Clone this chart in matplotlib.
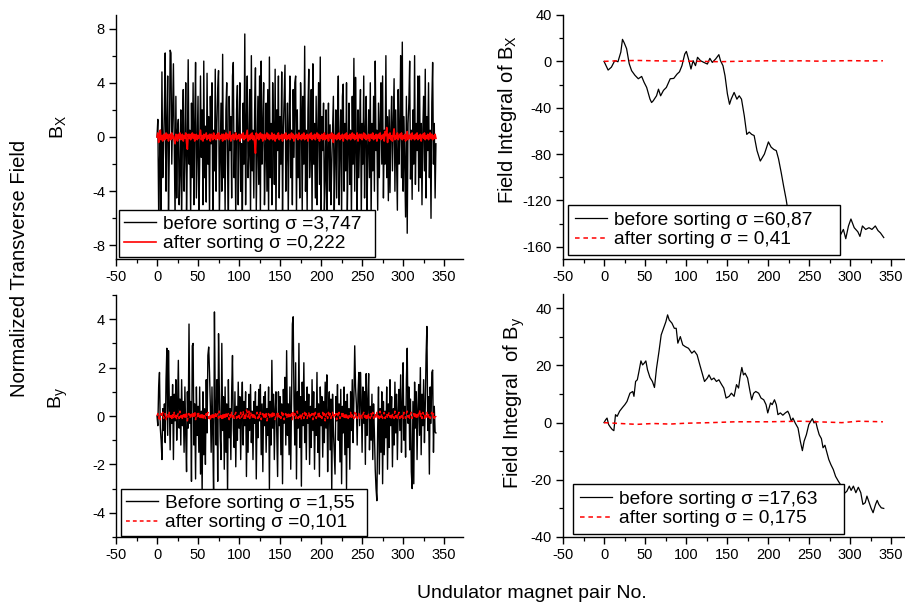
import numpy as np
import matplotlib
matplotlib.use('Agg')
import matplotlib.pyplot as plt
from matplotlib.ticker import MultipleLocator

plt.rcParams['font.family'] = ['Liberation Sans', 'DejaVu Sans']
plt.rcParams['axes.unicode_minus'] = False
plt.rcParams['mathtext.fontset'] = 'custom'
plt.rcParams['mathtext.rm'] = 'Liberation Sans'
plt.rcParams['mathtext.default'] = 'regular'

# ---------------- data ----------------
bx_before = [
    0, 1.3, -5.5, -2, 0.5, -6, 4.8, -3, -1, 2, 6.2, -4, 0.8, 4.5, -5.8, -1, 6.4, 6.2, -2, 1.5,
    5.4, -0.5, -6, 3, -4.5, 0.5, 1.3, -5, -2.5, 2, -6.5, 0.3, 3.5, -4, -1, 4, -5.5, -1, 5.7, -2,
    0.5, -6, 2.5, -3, 4, -5, 1, 5.5, -4.5, -0.5, 3, -6, -2, 4.5, -1.5, 2, -5, 5.6, -3, 0.8,
    -4.8, 4.7, -2, 1.5, -6, 3, -0.5, 4, -5.5, 0.5, -2.5, 5, -4, 1, 3.5, 4.9, -6, -1.5, 2.5, -4,
    6.1, -3, 0.5, -5.5, 2, 4, -2, -6, 3, -1, 1.5, -4.5, 4.5, 5.5, -3, 0.3, -6, 2, 3.8, -5,
    0.5, 4, -4, -0.5, -6.5, 2.5, -2, 7.6, -5, 1, 4.5, -3, -1, 3.5, -6, 6, -2.5, 0.5, -4.5, 2,
    5.1, -5.5, -1, 3, -3.5, 4.5, -6, 5.6, -2, 0.5, 4, -5, -1.5, 2.5, -4, 3.5, -6, 5.9, -3, 1,
    -5, 4, 0.5, -3.5, 5, -6.5, 2, -1, 4.5, -4.5, 1.5, -2, 4.8, -5.5, 0.5, 3, 5.3, -4, -1, 2.5,
    -6, 1, 4.5, -3, 0.5, -5, 3.5, -1.5, 4, 4.5, -6, 2, -3, 0.5, -4.5, 4, 1.5, -5.5, 3, -2,
    6.7, -4, 0.5, -5.5, 2, 5, -3, -1, 3.5, -6, 5.4, -2, 1, -4.5, 3, -5, 0.5, 4, -3.5, 5.9,
    -6, 1.5, -1, 2.5, -5.5, -3, 2, -6.5, -1, 2.5, -4, 0.9, -5, -2, 0.5, 3, -6, -1.5, 2, -4.5,
    1, 4.5, -5, -0.5, 2, -6, 3, 3.9, -4, 1, -2.5, 4, -5.5, -1, 2.5, -3.5, 0.5, -6, 3, -2,
    5.8, -4, 4.4, -1, -5.5, 2, -3, 0.5, 3.5, -6, 1, -2, 4.5, -4.5, 0.5, 3, -5.5, -1, 2, -3,
    4, -6, 1, -2.5, 3, -4, 5.6, -1, 0.5, -5.4, 2.5, -3, 1, 4, -2, 4.5, -4.5, 0.5, -2, 6,
    -3, 1.5, -4.7, 2, -4.1, 0.5, 3, -2.5, 1, 4.3, -4, 2, -1.5, -5.4, 3.5, -2, 0.5, 6, -3, 7,
    -4, 1.5, -2, -5.9, 3, -7.1, 1, 2.5, 5.6, -3.1, 0.5, -4.6, 2, -2, 6, -3.5, 1, -1, 4.5, -4,
    4.5, -3, 1, -5, 0.5, 3, -2.5, 5, -4.5, 1.5, -1, 4, -3, 0.5, -6, 2.5, 5.5, -2, 1, -4.5,
    -0.5]

bx_after = [
    0, .3, -.4, .2, .5, -.2, .1, -.3, .2, .1, -.2, .3, -.1, .2, -.3, .1, .2, -.2, .3, -.1,
    .1, -.2, -.5, .2, .1, -.3, .2, -.1, .3, -.2, .1, .2, -.3, .1, -.1, .3, -.4, -.9, .2, -.1,
    .2, -.2, .1, .3, -.1, .2, -.3, .1, .2, -.2, .1, -.1, .2, .5, -.2, .1, -.3, .2, -.1, .1,
    .3, -.2, .1, -.1, .2, -.3, .2, .1, -.2, .3, -.1, .1, -.2, .2, -.1, .3, -.2, .1, -.1, .2,
    -.3, .2, .1, -.2, .3, -.1, .2, -.2, .1, .4, -.3, .1, -.1, .2, -.2, .1, .3, -.2, .1, -.1,
    .2, -.3, .1, .2, -.1, .3, -.2, .1, -.1, .2, .5, -.3, .1, -.2, .2, -.1, .3, -.2, .1, -.4,
    -1.2, .3, -.1, .2, -.2, .1, .3, -.1, .2, -.3, .1, .2, -.2, .1, .3, -.1, .2, -.2, .1, -.1,
    .3, -.2, .1, .2, -.3, .1, -.1, .2, .3, -.2, .1, -.1, .2, -.3, .1, .2, -.1, .3, -.2, .1,
    -.1, .2, -.2, .1, .3, -.1, .2, -.3, .1, -.1, .2, .1, -.2, .3, -.1, .1, -.2, .2, -.1, .3,
    -.2, .1, -.1, .2, -.3, .1, .2, -.1, .3, -.2, .1, -.1, .2, -.2, .1, .3, -.1, .2, -.3, .1,
    -.1, .2, -.2, .1, .3, -.2, .1, -.1, .2, -.3, .1, .2, -.1, .3, -.2, -.4, .2, -.1, .1, -.2,
    .2, -.1, .3, -.2, .1, -.1, .2, -.3, .1, .2, -.1, .3, -.2, .1, -.1, .2, -.2, .1, .3, -.1,
    .2, -.2, .1, -.1, .3, -.3, .1, .2, -.1, .2, -.2, .1, .3, -.1, .2, -.2, .1, -.1, .2, -.3,
    .1, .2, -.1, .3, -.2, .1, -.1, .2, -.3, .1, .2, -.1, .3, -.2, .1, -.1, .2, -.3, .4, .1,
    .7, -.4, .2, -.1, .3, -.2, .1, -.3, .2, .6, -.2, .1, -.1, .3, -.2, .1, .2, -.1, .3, -.2,
    .1, -.1, .2, -.3, .1, .4, -.2, .1, -.1, .2, -.2, .3, -.1, .1, -.2, .2, -.1, .3, -.2, .1,
    -.1, .2, -.3, .1, .2, -.1, .3, -.2, .1, -.1, .2, -.2, .1, .3, -.1, .2, -.2, .1, -.1, .2,
    -.1]

by_before = [
    0, -.4, 1.2, 1.8, -.5, -1, -1.8, .3, -.6, .5, -1.1, 1.5, 2.8, -.8, 2.7, .5, -1.4, .8, -.3, 1.3,
    -1.8, .9, -.2, 1.5, -1, .3, 2.3, -.5, .7, -1.2, 1.5, -.4, .6, -1.5, 1.2, -.8, -2.3, 1, -.5, 3.8,
    -.3, .6, -2.7, 2.9, 3, -1.2, .5, -2.6, 1.2, -.8, .4, -1.5, 1.2, -2.4, .2, -3.2, 1, -1.6, .3, -2,
    1.5, -.7, 2.5, 2.85, 1.8, .4, -1.5, 1.2, -.8, -3.5, 4.3, .5, -1.2, 1.5, -2.7, 3.4, 1, -.8, -1.8, 3,
    -.6, .8, -2.2, 1.2, -1.5, .5, -3.2, 1.5, -.9, .3, -1.8, 1, 2.5, -.5, -1.3, 1, -2.1, .4, -1, 1.4,
    -.5, .8, -1.8, .2, 1.4, -1.2, .6, -.4, 1, -2.5, .3, -1.5, .9, -.6, 1.3, -1.1, .2, -1.8, .6, -.3,
    1, -2.6, .4, -.9, 1.1, -.2, 1.3, -1.6, .5, -2.3, .8, -.4, 1, -1.5, .3, -.8, 1.2, -3, .6, -1.2,
    2.3, -.5, .9, -1.8, .3, 1, -.7, -2.5, 1, -.4, .8, -1.6, .5, -2.8, 1.1, -.3, 1.6, -1.2, 2.7, -.8,
    .5, -1.6, 1.2, -2.2, .6, 3.8, 4.1, .5, -1.2, 2.2, -2.6, 1, -.5, 3, -1.3, .8, -2.9, 1.4, -.4, 2.2,
    -1.1, .6, -1.8, 1.2, -.3, .9, -2, .4, -1.3, 1.5, -.6, 1, -2.2, .3, -.8, 1.8, -1.5, .5, -2.5, 1.2,
    -.4, .8, -1.7, .6, -1.1, 1.4, -.5, 1.7, -2.3, .2, 1, -1.4, .7, -3.2, .9, -.6, -1.5, -2.4, .8, -.2,
    1.3, -1, .5, -1.9, 1.1, -2.8, .4, -.7, 1.2, -1.6, .6, -3, .9, -1.3, .3, -2.2, 1, -.6, 1.5, -1.1,
    .7, 2.9, 1.2, .5, -1.2, .9, 1.8, -.4, 1.8, .6, -1.5, 1.2, -.3, 1, -2, 1.75, -.8, .6, 1.75, -1.4,
    .4, -1, .9, -1.8, .5, -.7, -2.2, -3, -3.5, -.5, 1.2, -2.4, .3, -1.5, 1, -2.8, .6, -1.6, .2, -.9,
    1.2, -2.2, .5, -1.3, 1.5, -.4, .8, -2.1, .3, -1.2, 1.4, -.7, .9, -1.8, .2, 1.1, -.6, 1.7, -1.5, .5,
    2.2, -1, .4, -1.7, 1.5, 2.8, -.3, 1.2, -1.4, .7, -2.3, -3, .6, -2.8, 1.4, -.5, 1, -1.8, .3, 1.3,
    -.8, 2, -1.6, .9, -.4, 1.5, -1.1, .4, 2.5, 3.7, -.6, .8, -2.4, 1.2, -.3, 1.8, 1.9, -1.5, .4, -.66,
    -.7]

by_after = [
    0, .1, -.1, .05, -.15, .1, -.05, .15, -.1, 0, .1, -.15, .05, .1, -.1, .15, -.05, .1, -.1, .05,
    -.1, .15, -.05, .1, -.15, .05, .1, -.1, .2, -.05, .1, -.15, .05, -.1, .15, -.05, .1, -.2, .05, .1,
    -.1, .05, .15, -.1, .1, -.05, .2, -.15, .05, .1, -.1, .15, -.05, .1, -.1, .05, -.15, .1, .05, -.1,
    .1, -.05, .15, -.1, .05, -.2, .1, -.05, .1, -.15, .05, .15, -.1, .05, .1, -.1, .2, -.05, .1, -.1,
    .05, -.15, .1, -.05, .15, -.1, .05, .1, -.15, .05, -.1, .15, -.05, .1, -.1, .05, .15, -.1, .05, -.05,
    .1, -.1, .15, -.05, .05, .2, -.1, .1, -.15, .25, .15, -.05, .2, -.1, .15, .05, -.1, .1, -.05, .1,
    -.1, .05, .15, -.1, .1, -.05, .15, -.15, .05, .1, -.1, .15, -.05, .1, -.2, .05, .1, -.1, .05, .15,
    -.1, .2, -.05, .1, -.15, .05, .1, -.1, .15, -.05, .05, -.1, .15, -.05, .1, -.15, .05, .1, -.1, .05,
    .15, -.1, .05, -.05, .1, -.15, .15, -.05, .1, -.1, .05, .2, -.1, .05, -.05, .1, -.15, .05, .1, -.1,
    .15, -.05, .1, -.1, .05, .15, -.1, .05, -.05, .1, -.15, .1, -.05, .15, -.1, .05, .1, -.1, .15, -.05,
    .05, -.1, .15, -.05, .1, -.2, .05, .1, -.1, .15, -.05, .1, -.1, .05, .15, -.1, .05, -.05, .1, -.15,
    .1, -.05, .15, -.1, .05, .1, -.1, .15, -.05, .1, -.15, .05, .1, -.1, .05, -.05, .15, -.1, .05, .1,
    -.1, .15, -.05, .1, -.1, .05, .1, -.15, .05, .1, -.1, .05, .15, -.05, .1, -.1, .05, -.15, .1, .05,
    -.1, .1, -.05, .15, -.1, .05, .1, -.1, .15, -.05, .05, -.1, .2, -.05, .1, -.1, .05, .15, -.1, .05,
    .1, -.1, .05, .15, -.05, .1, -.15, .05, .1, -.1, .2, -.05, .1, -.1, .05, .15, -.1, .05, -.05, .1,
    -.1, .15, .05, -.1, .1, .2, -.05, .1, -.1, .05, .15, -.1, .05, .1, -.1, .15, -.05, .1, -.1, .05,
    .25, -.05, .1, -.1, .15, .05, -.1, .1, -.05, .15, -.1, .05, .1, -.1, .05, .15, -.05, .1, -.1, .05,
    -.05]

# field integral of Bx, before sorting (pair No., value)
ibx_before_x = [0, 5, 9, 13, 17, 20.5, 22.5, 24.6, 27.5, 30.7, 33.6, 37.7, 41.8, 45.9, 48.8, 52, 56, 58,
                60, 64, 66.4, 69, 72.5, 76, 80.7, 85, 89, 92, 95, 98.4, 100.4, 103, 106, 108.6, 111.5,
                114, 117.6, 121.7, 126, 129, 132, 136, 140, 142, 145, 147.5, 150.4, 153, 155, 158.6,
                162, 164.8, 167.6, 171, 174, 177, 180, 183, 186.5, 190.5, 195.5, 200.4, 203.7, 207,
                210, 212.7, 216, 218.9, 222, 224, 230, 240, 250, 260, 270, 280, 288, 291.8, 294.7,
                298, 301, 305, 309.4, 312, 315, 319, 323, 326.6, 330.7, 334, 337, 341]
ibx_before_y = [0, -7.5, -5, 0.5, -0.3, 8, 19, 16, 11, -2, -8, -12, -15, -13, -18, -22.5, -32.5, -35.5,
                -34, -29.7, -24, -29.7, -25, -22.5, -15, -14.7, -11, -9, -3.7, 6.3, 8.6, 2, -6.6, 0.6,
                -3.7, 3.5, 0.6, -0.9, -2.3, 2.6, -0.9, 2, 5.8, 0.6, -3.7, -12.4, -28, -37, -32.6,
                -26.8, -32.6, -29.7, -32.6, -47, -63, -61, -63, -64, -77, -86, -80, -69.5, -74, -76,
                -77, -84, -96, -107.5, -119, -128, -140, -150, -155, -150, -148, -152, -150, -145,
                -153, -142, -136, -143.5, -147, -151, -142, -145, -143.5, -145, -142, -146, -148, -152]

# field integral of Bx, after sorting
ibx_after_x = [0, 10, 20, 40, 60, 80, 100, 120, 140, 160, 180, 200, 220, 240, 260, 280, 300, 320, 340]
ibx_after_y = [0, 0.3, 0.5, 0.8, 0.5, 0.3, 0.2, 0, -0.3, 0, 0.3, 0.5, 0.3, 0.5, 0.2, 0.4, 0.6, 0.4, 0.5]

# field integral of By, before sorting
iby_before_x = [0, 2, 3.7, 5.7, 7.8, 10, 12, 14, 16, 19, 22.5, 25.4, 28, 31.6, 35, 36.5, 38.5, 40.6,
                42.6, 45, 47, 49, 51, 53, 56, 59, 61.5, 64, 67, 69.7, 72.5, 75.4, 77.5, 79.5, 82.8,
                85.7, 88, 90, 93, 96, 99, 103, 107, 110, 113.5, 116.8, 119.7, 122.5, 126, 128, 131,
                134, 137, 140, 143.4, 146, 148.8, 152.5, 155.3, 158.6, 161.5, 164, 166, 168, 170,
                172, 175, 178, 180, 182.4, 185, 188.5, 191.4, 194.7, 197.5, 199.6, 203, 205, 207.8,
                210, 212, 215, 218, 221, 224, 226, 228.3, 230.3, 233, 236.5, 239.3, 241.8, 243.9,
                246.7, 249.6, 252, 254, 256, 258, 260, 262.3, 265, 267, 269.3, 271.3, 274, 276.6,
                279.5, 282.3, 285.7, 289, 292, 296, 299, 301.2, 304, 307, 310, 313, 315.6, 318.4,
                320.5, 322.5, 325.4, 328, 331, 333, 335, 338, 341]
iby_before_y = [0, 1, 1.6, -0.7, -1.6, -2.4, -2.8, 2.8, 2.2, 4, 5.3, 6.3, 7.4, 10.3, 10.9, 9.2, 14.4, 15,
                17.9, 21.6, 20.2, 20.8, 21.6, 18.5, 15.8, 14.4, 12.3, 19, 24.9, 30.7, 33, 35.3, 37.7,
                35.9, 34.8, 33, 33, 27.8, 30.1, 27.2, 26.6, 26, 24.3, 25.1, 23.7, 20.2, 17.3, 14.4,
                15.6, 16.7, 15, 15.6, 14.4, 15, 13.3, 12.1, 8.6, 9.2, 10.3, 9.2, 13.3, 12.1, 16.2,
                19.3, 16.7, 17.3, 15.6, 10.9, 8, 10.3, 10.9, 10.3, 8.6, 8, 6.3, 3.4, 6.9, 6.3, 8, 6.3,
                2.8, 3.4, 2.6, 3.4, 4, 2.8, 0.5, 1.6, -0.1, -1.9, -6.5, -9.8, -6.5, -4.2, -0.7, 0.5,
                1.4, -0.1, 0.5, -1.9, -4.2, -5.6, -8.8, -7.9, -10, -12.9, -14.7, -16.4, -18.8, -20.5,
                -22, -25, -24, -22.2, -23.7, -22.2, -24.5, -22.6, -24.5, -28.6, -28, -25.7, -27.4,
                -29.8, -31.5, -28.6, -27.2, -28.6, -29.8, -30]

# field integral of By, after sorting
iby_after_x = [0, 20, 40, 60, 80, 100, 130, 160, 200, 240, 260, 290, 310, 340]
iby_after_y = [0, -0.3, -0.6, -0.3, -0.5, -0.2, 0, 0.3, 0.3, 0.5, 0.3, 0, 0.5, 0.3]

labels_tl = ['before sorting \u03c3 =3,747', 'after sorting \u03c3 =0,222']
labels_tr = ['before sorting \u03c3 =60,87', 'after sorting \u03c3 = 0,41']
labels_bl = ['Before sorting \u03c3 =1,55', 'after sorting \u03c3 =0,101']
labels_br = ['before sorting \u03c3 =17,63', 'after sorting \u03c3 = 0,175']

# ---------------- figure ----------------
W, H = 905, 606
fig = plt.figure(figsize=(W / 100, H / 100), dpi=100)


def add_ax(l, t, r, b):
    return fig.add_axes([l / W, 1 - b / H, (r - l) / W, (b - t) / H])


ax1 = add_ax(116, 15, 463, 259)
ax2 = add_ax(563, 15, 910, 259)
ax3 = add_ax(116, 295, 463, 537)
ax4 = add_ax(563, 294, 910, 537)

TICKFS = 10.5
LABFS = 14.5
LEGFS = 13.8


def style(ax, ylim, ymaj, ymin):
    ax.set_xlim(-50, 373)
    ax.set_ylim(*ylim)
    ax.xaxis.set_major_locator(MultipleLocator(50))
    ax.xaxis.set_minor_locator(MultipleLocator(25))
    ax.yaxis.set_major_locator(MultipleLocator(ymaj))
    ax.yaxis.set_minor_locator(MultipleLocator(ymin))
    for s in ['top', 'right']:
        ax.spines[s].set_visible(False)
    for s in ['left', 'bottom']:
        ax.spines[s].set_linewidth(1.0)
    ax.tick_params(which='major', direction='out', length=5, width=1.0,
                   labelsize=TICKFS, pad=3, colors='black')
    ax.tick_params(which='minor', direction='out', length=3, width=0.9)


def legend(ax, dx, dy, w_px, pad=0.25):
    leg = ax.legend(loc='lower left', bbox_to_anchor=(dx, dy, w_px / 347, 0.1),
                    mode='expand', borderaxespad=0,
                    frameon=True, fancybox=False, edgecolor='black', framealpha=1,
                    fontsize=LEGFS, handlelength=1.7, handletextpad=0.35,
                    labelspacing=0.12, borderpad=pad)
    leg.get_frame().set_linewidth(1.0)
    return leg


# Top-left: Bx
ax1.plot(np.arange(len(bx_before)), bx_before, color='black', lw=1.0, label=labels_tl[0])
ax1.plot(np.arange(len(bx_after)), bx_after, color='red', lw=1.2, label=labels_tl[1])
style(ax1, (-9, 9), 4, 2)
legend(ax1, 0.009, 0.008, 256)

# Top-right: integral Bx
ax2.plot(ibx_before_x, ibx_before_y, color='black', lw=0.9, label=labels_tr[0])
ax2.plot(ibx_after_x, ibx_after_y, color='red', lw=1.1, dashes=(3, 2.5), label=labels_tr[1])
style(ax2, (-170.5, 40), 40, 20)
ax2.set_ylabel(r'Field Integral of B$_{X}$', fontsize=LABFS)
ax2.yaxis.set_label_coords(-0.127, 0.57)
legend(ax2, 0.014, 0.016, 272, pad=0.35)

# Bottom-left: By
ax3.plot(np.arange(len(by_before)), by_before, color='black', lw=1.0, label=labels_bl[0])
ax3.plot(np.arange(len(by_after)), by_after, color='red', lw=1.1, dashes=(2.5, 2), label=labels_bl[1])
style(ax3, (-5, 5), 2, 1)
legend(ax3, 0.014, 0.004, 246)

# Bottom-right: integral By
ax4.plot(iby_before_x, iby_before_y, color='black', lw=0.9, label=labels_br[0])
ax4.plot(iby_after_x, iby_after_y, color='red', lw=1.1, dashes=(3, 2.5), label=labels_br[1])
style(ax4, (-40, 45), 20, 10)
ax4.set_ylabel(r'Field Integral  of B$_{y}$', fontsize=LABFS)
ax4.yaxis.set_label_coords(-0.104, 0.553)
legend(ax4, 0.029, 0.012, 271, pad=0.35)

# shared labels
fig.text(20 / W, 1 - 268 / H, 'Normalized Transverse Field', rotation=90,
         ha='center', va='center', fontsize=LABFS)
fig.text(58 / W, 1 - 127 / H, r'B$_{X}$', rotation=90, ha='center', va='center', fontsize=14)
fig.text(58 / W, 1 - 398 / H, r'B$_{y}$', rotation=90, ha='center', va='center', fontsize=14)
fig.text(532 / W, 1 - 593 / H, 'Undulator magnet pair No.', ha='center', va='center', fontsize=14)

fig.savefig('out.png', dpi=100)
